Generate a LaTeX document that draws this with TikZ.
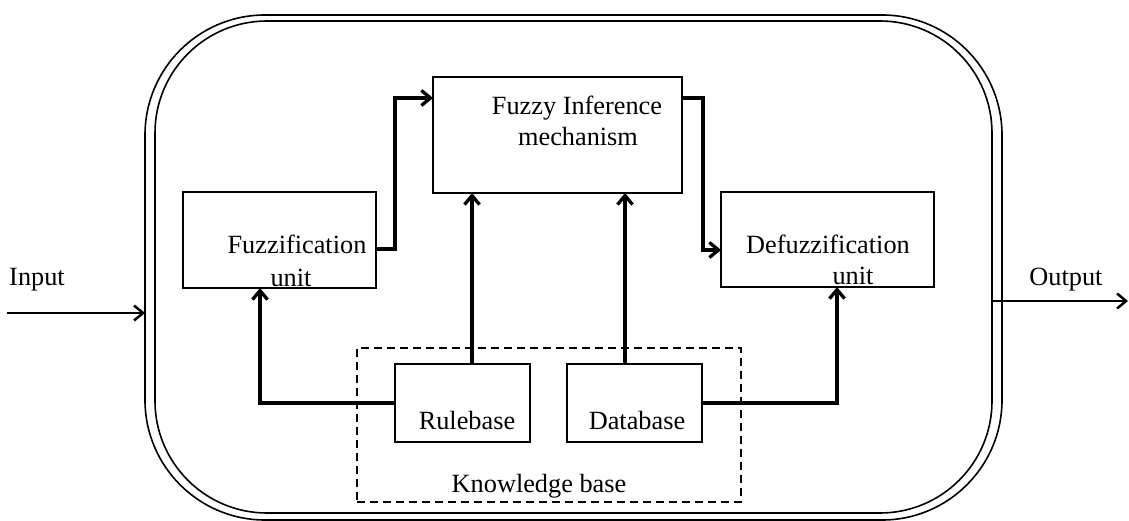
\documentclass[tikz,border=0pt]{standalone}
\usepackage{fontspec}
\setmainfont{Liberation Serif}
\usetikzlibrary{arrows.meta}
\begin{document}
\begin{tikzpicture}[x=1pt,y=-1pt,
  box/.style={draw=black,line width=1.5pt,inner sep=0pt,outer sep=0pt},
  kbox/.style={draw=black,line width=1.6pt,dash pattern=on 8pt off 5pt,inner sep=0pt,outer sep=0pt},
  frame/.style={draw=black,line width=1.6pt,rounded corners=120pt,inner sep=0pt,outer sep=0pt},
  txt/.style={anchor=base,inner sep=0pt,font=\fontsize{26.3pt}{31pt}\selectfont},
  conn/.style={line width=3.3pt,-{Straight Barb[length=9pt,width=15pt]}},
  ioarr/.style={line width=2.5pt,-{Straight Barb[length=9pt,width=15pt]}}]
\useasboundingbox (0,0) rectangle (1129,521);
% outer double frame
\node[frame,minimum width=857pt,minimum height=505pt] (outerA) at (573.5,267.5) {};
\node[frame,rounded corners=112pt,minimum width=837pt,minimum height=492pt] (outerB) at (573.5,267) {};
% boxes
\node[box,minimum width=193pt,minimum height=96pt] (fz) at (279.5,240) {};
\node[box,minimum width=249pt,minimum height=116pt] (fi) at (557.5,135) {};
\node[box,minimum width=213pt,minimum height=95pt] (dz) at (827.5,239.5) {};
\node[kbox,minimum width=384pt,minimum height=154pt] (kb) at (549,425) {};
\node[box,minimum width=135pt,minimum height=78pt] (rb) at (462.5,403) {};
\node[box,minimum width=135pt,minimum height=78pt] (db) at (634.5,403) {};
% texts
\node[txt] (fzt1) at (297,254) {Fuzzification};
\node[txt] (fzt2) at (291,286) {unit};
\node[txt] (fit1) at (577,115) {Fuzzy Inference};
\node[txt] (fit2) at (578,146) {mechanism};
\node[txt] (dzt1) at (828,254) {Defuzzification};
\node[txt] (dzt2) at (853,284) {unit};
\node[txt] (rbt) at (467,429) {Rulebase};
\node[txt] (dbt) at (637,429) {Database};
\node[txt] (kbt) at (539,492) {Knowledge base};
\node[txt] (int) at (37,285) {Input};
\node[txt] (outt) at (1066,285) {Output};
% io coordinates
\coordinate (inS) at (7,313);
\coordinate (outE) at (1128,301);
% connectors
\draw[ioarr] (inS) -- (inS -| outerA.west);
\draw[ioarr] (outE -| outerB.east) -- (outE);
\draw[conn] ([yshift=-9pt]fz.east) -- ++(19,0) |- ([yshift=37pt]fi.west);
\draw[conn] ([yshift=37pt]fi.east) -- ++(21,0) |- ([yshift=-10.5pt]dz.west);
\draw[conn] (rb.west) -| ([xshift=-19.5pt]fz.south);
\draw[conn] ([xshift=9.5pt]rb.north) -- ([xshift=9.5pt]rb.north |- fi.south);
\draw[conn] ([xshift=-9.5pt]db.north) -- ([xshift=-9.5pt]db.north |- fi.south);
\draw[conn] (db.east) -| ([xshift=9.5pt]dz.south);
\end{tikzpicture}
\end{document}
